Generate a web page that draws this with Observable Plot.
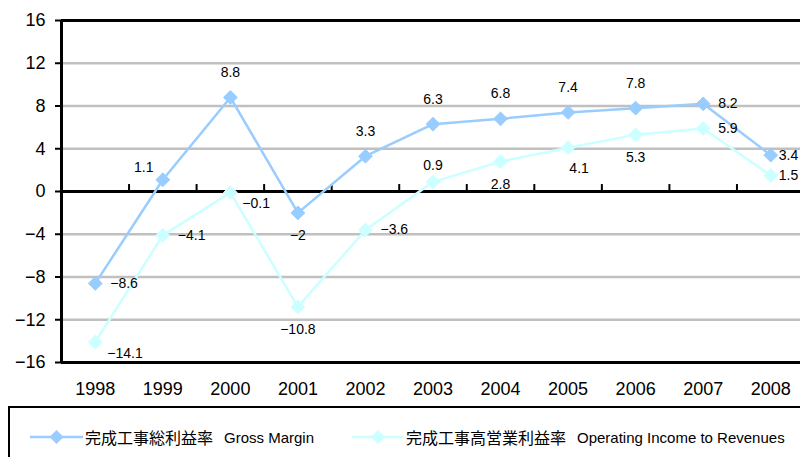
<!DOCTYPE html>
<html><head><meta charset="utf-8">
<script src="https://cdn.jsdelivr.net/npm/d3@7"></script>
<script src="https://cdn.jsdelivr.net/npm/@observablehq/plot@0.6"></script>
<style>
html,body{margin:0;padding:0;background:#fff;overflow:hidden;width:800px;height:457px;position:relative}
#chart svg{display:block}
#legendBox{position:absolute;left:8px;top:406px;width:830px;height:90px;border:2.5px solid #000;box-sizing:border-box}
.item{position:absolute;top:428px;height:18px;display:flex;align-items:center;font-family:"Liberation Sans",Arial,sans-serif;font-size:15px;color:#000;white-space:nowrap}
.item .cjk{font-family:"Noto Sans CJK JP",sans-serif;font-size:16px;margin-right:11px}
.item svg{display:block}
</style></head>
<body>
<div id="chart"></div>
<div id="legendBox"></div>
<div id="legend"></div>
<script>
const years = [1998, 1999, 2000, 2001, 2002, 2003, 2004, 2005, 2006, 2007, 2008];
const grossMargin = [-8.6, 1.1, 8.8, -2, 3.3, 6.3, 6.8, 7.4, 7.8, 8.2, 3.4];
const operatingIncome = [-14.1, -4.1, -0.1, -10.8, -3.6, 0.9, 2.8, 4.1, 5.3, 5.9, 1.5];
const yTicks = [-16, -12, -8, -4, 0, 4, 8, 12, 16];
const seriesNamesJa = ["完成工事総利益率", "完成工事高営業利益率"];
const seriesNamesEn = ["Gross Margin", "Operating Income to Revenues"];
const seriesColors = ["#99ccff", "#ccffff"];
const grossLabelPlace = ["right", "leftAbove", "above", "below", "above", "above", "above", "above", "above", "right", "edge"];
const opLabelPlace = ["rightBelow", "right", "rightBelow", "below", "right", "aboveNear", "below", "belowRight", "below", "right", "edge"];

const placements = {
  above: {dx: 0, dy: -25, textAnchor: "middle"},
  aboveNear: {dx: 0, dy: -16, textAnchor: "middle"},
  below: {dx: 0, dy: 23, textAnchor: "middle"},
  belowRight: {dx: 11, dy: 21, textAnchor: "middle"},
  right: {dx: 15, dy: 0, textAnchor: "start"},
  rightBelow: {dx: 12, dy: 11, textAnchor: "start"},
  leftAbove: {dx: -19, dy: -12, textAnchor: "middle"},
  edge: {dx: 8, dy: 0, textAnchor: "start"}
};

const fmt = v => (v < 0 ? "\u2212" : "") + String(Math.abs(v));
const gross = years.map((yr, i) => ({year: yr, value: grossMargin[i], place: grossLabelPlace[i]}));
const oper = years.map((yr, i) => ({year: yr, value: operatingIncome[i], place: opLabelPlace[i]}));
const xStart = years[0] - 0.5, xEnd = years[years.length - 1] + 0.5;
const boundaries = years.slice(1).map(y => y - 0.5);
const gridTicks = yTicks.filter(t => t !== 0 && t !== yTicks[0] && t !== yTicks[yTicks.length - 1]);

const labelMarks = [];
for (const [data, k] of [[gross, 0], [oper, 1]]) {
  for (const key of Object.keys(placements)) {
    const sub = data.filter(d => d.place === key);
    if (sub.length) labelMarks.push(Plot.text(sub, {x: "year", y: "value", text: d => fmt(d.value), ...placements[key], fontSize: 14, fill: "#000"}));
  }
}

const chart = Plot.plot({
  width: 800,
  height: 405,
  marginLeft: 61,
  marginRight: 0,
  marginTop: 20,
  marginBottom: 43,
  style: {fontFamily: "'Liberation Sans', Arial, sans-serif", background: "#fff", color: "#000"},
  x: {type: "linear", domain: [xStart, xEnd], range: [61, 804]},
  y: {domain: [yTicks[0], yTicks[yTicks.length - 1]], range: [362, 20]},
  marks: [
    Plot.ruleY(gridTicks, {stroke: "#c0c0c0", strokeWidth: 2.5}),
    Plot.ruleY([yTicks[0], yTicks[yTicks.length - 1]], {stroke: "#000", strokeWidth: 3}),
    Plot.ruleX([xStart], {stroke: "#000", strokeWidth: 3}),
    Plot.ruleY([0], {stroke: "#000", strokeWidth: 3}),
    Plot.ruleX(boundaries, {y1: 0, y2: 0.65, stroke: "#000", strokeWidth: 2}),
    Plot.line(gross, {x: "year", y: "value", stroke: seriesColors[0], strokeWidth: 2.5}),
    Plot.dot(gross, {x: "year", y: "value", symbol: "diamond2", r: 6.2, fill: seriesColors[0], stroke: seriesColors[0], strokeWidth: 1}),
    Plot.line(oper, {x: "year", y: "value", stroke: seriesColors[1], strokeWidth: 2.5}),
    Plot.dot(oper, {x: "year", y: "value", symbol: "diamond2", r: 6.2, fill: seriesColors[1], stroke: seriesColors[1], strokeWidth: 1}),
    ...labelMarks,
    Plot.axisY({ticks: yTicks, tickSize: 6, tickPadding: 10, fontSize: 18, strokeWidth: 2, label: null, tickFormat: fmt}),
    Plot.axisX({ticks: years, tickSize: 0, tickPadding: 20, fontSize: 18, label: null, tickFormat: d => String(d)})
  ]
});
document.getElementById("chart").appendChild(chart);

const legendPos = [{line: 30, text: 85}, {line: 352, text: 406}];
const legend = document.getElementById("legend");
seriesNamesJa.forEach((name, i) => {
  const item = document.createElement("div");
  item.className = "item";
  item.style.left = legendPos[i].line + "px";
  const c = seriesColors[i];
  item.innerHTML = `<svg width="${legendPos[i].text - legendPos[i].line}" height="18"><line x1="0" x2="${legendPos[i].text - legendPos[i].line - 2}" y1="9" y2="9" stroke="${c}" stroke-width="2.5"/><path d="M${(legendPos[i].text - legendPos[i].line - 2) / 2},2 l7,7 l-7,7 l-7,-7z" fill="${c}"/></svg><span class="cjk">${name}</span><span>${seriesNamesEn[i]}</span>`;
  legend.appendChild(item);
});
</script>
</body></html>
